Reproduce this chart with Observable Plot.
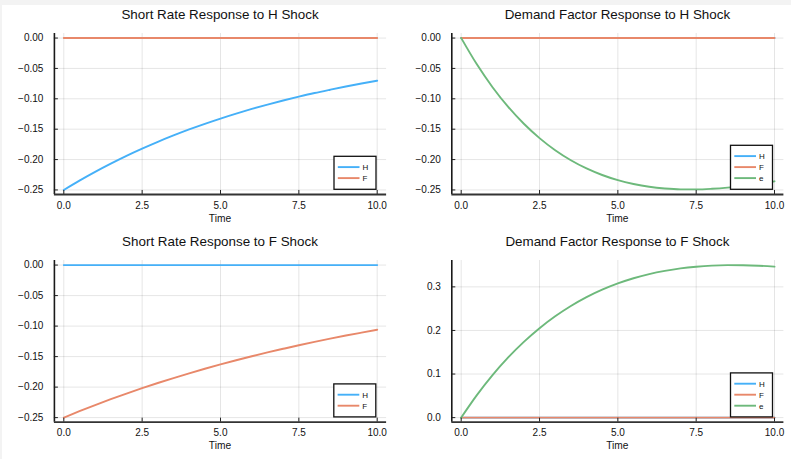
<!DOCTYPE html>
<html>
<head>
<meta charset="utf-8">
<script src="https://cdn.jsdelivr.net/npm/d3@7"></script>
<script src="https://cdn.jsdelivr.net/npm/@observablehq/plot@0.6"></script>
<style>
  body { margin: 0; background: #fff; }
  #root { position: relative; width: 791px; height: 459px; overflow: hidden; background: #fff;
          font-family: "Liberation Sans", Arial, Helvetica, sans-serif; }
  .panel { position: absolute; }
  .panel svg { overflow: visible; }
  #bandTop { position: absolute; left: 0; top: 0; width: 791px; height: 5px; background: #f3f3f3; }
  #bandLeft { position: absolute; left: 0; top: 0; width: 2px; height: 459px; background: #f3f3f3; }
  #overlay { position: absolute; left: 0; top: 0; }
</style>
</head>
<body>
<div id="root"><div id="bandTop"></div><div id="bandLeft"></div></div>
<script>
// ---------- data ----------
const time = [0, 0.5, 1, 1.5, 2, 2.5, 3, 3.5, 4, 4.5, 5, 5.5, 6, 6.5, 7, 7.5, 8, 8.5, 9, 9.5, 10];

const flatZero = [0, 0, 0, 0, 0, 0, 0, 0, 0, 0, 0, 0, 0, 0, 0, 0, 0, 0, 0, 0, 0];

// Short rate response to H shock
const rateH_Hshock = [-0.250, -0.2346, -0.2202, -0.2067, -0.1939, -0.1820, -0.1708, -0.1603, -0.1504, -0.1412, -0.1325,
                      -0.1244, -0.1167, -0.1095, -0.1028, -0.0965, -0.0905, -0.0850, -0.0797, -0.0748, -0.0702];
const rateF_Hshock = flatZero;

// Demand factor response to H shock
const demH_Hshock = flatZero;
const demF_Hshock = flatZero;
const demE_Hshock = [0, -0.0433, -0.0809, -0.1133, -0.1411, -0.1647, -0.1846, -0.2011, -0.2146, -0.2254, -0.2339,
                     -0.2402, -0.2448, -0.2476, -0.2490, -0.2491, -0.2481, -0.2462, -0.2434, -0.2399, -0.2358];

// Short rate response to F shock
const rateH_Fshock = flatZero;
const rateF_Fshock = [-0.250, -0.2395, -0.2295, -0.2198, -0.2106, -0.2017, -0.1933, -0.1852, -0.1774, -0.1699, -0.1628,
                      -0.1560, -0.1494, -0.1431, -0.1372, -0.1314, -0.1259, -0.1206, -0.1155, -0.1107, -0.1060];

// Demand factor response to F shock
const demH_Fshock = flatZero;
const demF_Fshock = flatZero;
const demE_Fshock = [0, 0.0516, 0.0975, 0.1381, 0.1738, 0.2052, 0.2324, 0.2560, 0.2763, 0.2934, 0.3078,
                     0.3197, 0.3293, 0.3367, 0.3424, 0.3463, 0.3488, 0.3499, 0.3497, 0.3486, 0.3464];

const seriesNames = ["H", "F", "e"];
const seriesColors = ["#45b0f8", "#e8886a", "#6db97b"];

const xTicks = [0, 2.5, 5, 7.5, 10];
const xTickLabels = ["0.0", "2.5", "5.0", "7.5", "10.0"];
const yTicksNeg = [0, -0.05, -0.10, -0.15, -0.20, -0.25];
const yTicksNegLabels = ["0.00", "\u22120.05", "\u22120.10", "\u22120.15", "\u22120.20", "\u22120.25"];
const yTicksPos = [0, 0.1, 0.2, 0.3];
const yTicksPosLabels = ["0.0", "0.1", "0.2", "0.3"];

const titles = ["Short Rate Response to H Shock", "Demand Factor Response to H Shock",
                "Short Rate Response to F Shock", "Demand Factor Response to F Shock"];
const xLabel = "Time";

// ---------- drawing ----------
const root = document.getElementById("root");
const xDomain = [-0.3, 10.3];

function makePanel(cfg) {
  const {left, top, width, height, mt, mb, ml, mr, yDomain, yTicks, yLabels, series} = cfg;
  const innerH = height - mt - mb, innerW = width - ml - mr;
  const xfmt = d => xTickLabels[xTicks.indexOf(d)];
  const yfmt = d => { const i = yTicks.findIndex(v => Math.abs(v - d) < 1e-9); return i >= 0 ? yLabels[i] : ""; };
  const lineMarks = series.map(s => {
    const rows = time.map((t, i) => ({t, v: s.values[i]}));
    const c = seriesColors[seriesNames.indexOf(s.name)];
    return Plot.line(rows, {x: "t", y: "v", stroke: c, strokeWidth: 1.9, curve: "monotone-x"});
  });
  const p = Plot.plot({
    width, height,
    marginTop: mt, marginBottom: mb, marginLeft: ml, marginRight: mr,
    style: {background: "transparent", fontFamily: "'Liberation Sans', Arial, sans-serif", fontSize: "10px", color: "#111"},
    x: {domain: xDomain, ticks: xTicks, tickFormat: xfmt, tickSize: 0, tickPadding: 7, label: null},
    y: {domain: yDomain, ticks: yTicks, tickFormat: yfmt, tickSize: 0, tickPadding: 11, label: null},
    marks: [
      Plot.ruleX(xTicks, {stroke: "#000", strokeOpacity: 0.1, strokeWidth: 1}),
      Plot.ruleY(yTicks, {stroke: "#000", strokeOpacity: 0.1, strokeWidth: 1}),
      ...lineMarks,
      Plot.tickX(xTicks, {x: d => d, insetTop: innerH - 4, stroke: "#222", strokeWidth: 1}),
      Plot.tickY(yTicks, {y: d => d, insetRight: innerW - 4, stroke: "#222", strokeWidth: 1}),
      Plot.ruleX([xDomain[0]], {stroke: "#1a1a1a", strokeWidth: 1.6}),
      Plot.ruleY([yDomain[0]], {stroke: "#333", strokeWidth: 1.8})
    ]
  });
  const div = document.createElement("div");
  div.className = "panel";
  div.style.left = left + "px";
  div.style.top = top + "px";
  div.appendChild(p);
  root.appendChild(div);
}

const negDomain = [-0.2575, 0.0075];
const posDomain = [-0.0105, 0.3605];

makePanel({left: 0, top: 0, width: 396, height: 230, mt: 33, mb: 36, ml: 53.9, mr: 9.9,
  yDomain: negDomain, yTicks: yTicksNeg, yLabels: yTicksNegLabels,
  series: [{name: "H", values: rateH_Hshock}, {name: "F", values: rateF_Hshock}]});
makePanel({left: 396, top: 0, width: 395, height: 230, mt: 33, mb: 36, ml: 55.3, mr: 7.6,
  yDomain: negDomain, yTicks: yTicksNeg, yLabels: yTicksNegLabels,
  series: [{name: "H", values: demH_Hshock}, {name: "F", values: demF_Hshock}, {name: "e", values: demE_Hshock}]});
makePanel({left: 0, top: 229, width: 396, height: 230, mt: 31, mb: 37.3, ml: 53.9, mr: 9.9,
  yDomain: negDomain, yTicks: yTicksNeg, yLabels: yTicksNegLabels,
  series: [{name: "H", values: rateH_Fshock}, {name: "F", values: rateF_Fshock}]});
makePanel({left: 396, top: 229, width: 395, height: 230, mt: 31, mb: 37.3, ml: 55.3, mr: 7.6,
  yDomain: posDomain, yTicks: yTicksPos, yLabels: yTicksPosLabels,
  series: [{name: "H", values: demH_Fshock}, {name: "F", values: demF_Fshock}, {name: "e", values: demE_Fshock}]});

// ---------- titles, axis labels, legends (overlay) ----------
const ns = "http://www.w3.org/2000/svg";
const ov = document.createElementNS(ns, "svg");
ov.setAttribute("id", "overlay");
ov.setAttribute("width", 791);
ov.setAttribute("height", 459);
ov.style.fontFamily = "'Liberation Sans', Arial, sans-serif";
root.appendChild(ov);

function txt(x, y, s, size, anchor) {
  const t = document.createElementNS(ns, "text");
  t.setAttribute("x", x); t.setAttribute("y", y);
  t.setAttribute("font-size", size);
  t.setAttribute("text-anchor", anchor || "middle");
  t.setAttribute("fill", "#111");
  t.textContent = s;
  ov.appendChild(t);
}

const centers = [220, 617.4, 220, 617.4];
const titleBase = [18.6, 18.6, 245.7, 245.7];
const timeBase = [222.3, 222.3, 449, 449];
titles.forEach((s, i) => { txt(centers[i], titleBase[i], s, 13.4); txt(centers[i], timeBase[i], xLabel, 10.2); });

function legend(right, bottom, names) {
  const w = 42, step = 11, h = step * names.length + 11;
  const x0 = right - w, y0 = bottom - h;
  const r = document.createElementNS(ns, "rect");
  r.setAttribute("x", x0); r.setAttribute("y", y0);
  r.setAttribute("width", w); r.setAttribute("height", h);
  r.setAttribute("fill", "#fff"); r.setAttribute("stroke", "#111"); r.setAttribute("stroke-width", 1.3);
  ov.appendChild(r);
  names.forEach((n, i) => {
    const y = y0 + 10.8 + i * step;
    const l = document.createElementNS(ns, "line");
    l.setAttribute("x1", x0 + 3.8); l.setAttribute("x2", x0 + 25.5);
    l.setAttribute("y1", y); l.setAttribute("y2", y);
    l.setAttribute("stroke", seriesColors[seriesNames.indexOf(n)]);
    l.setAttribute("stroke-width", 1.9);
    ov.appendChild(l);
    txt(x0 + 28.5, y + 2.9, n, 8, "start");
  });
}
legend(376, 189.3, ["H", "F"]);
legend(772.5, 189.3, ["H", "F", "e"]);
legend(375.8, 416.9, ["H", "F"]);
legend(772.5, 416.9, ["H", "F", "e"]);
</script>
</body>
</html>
